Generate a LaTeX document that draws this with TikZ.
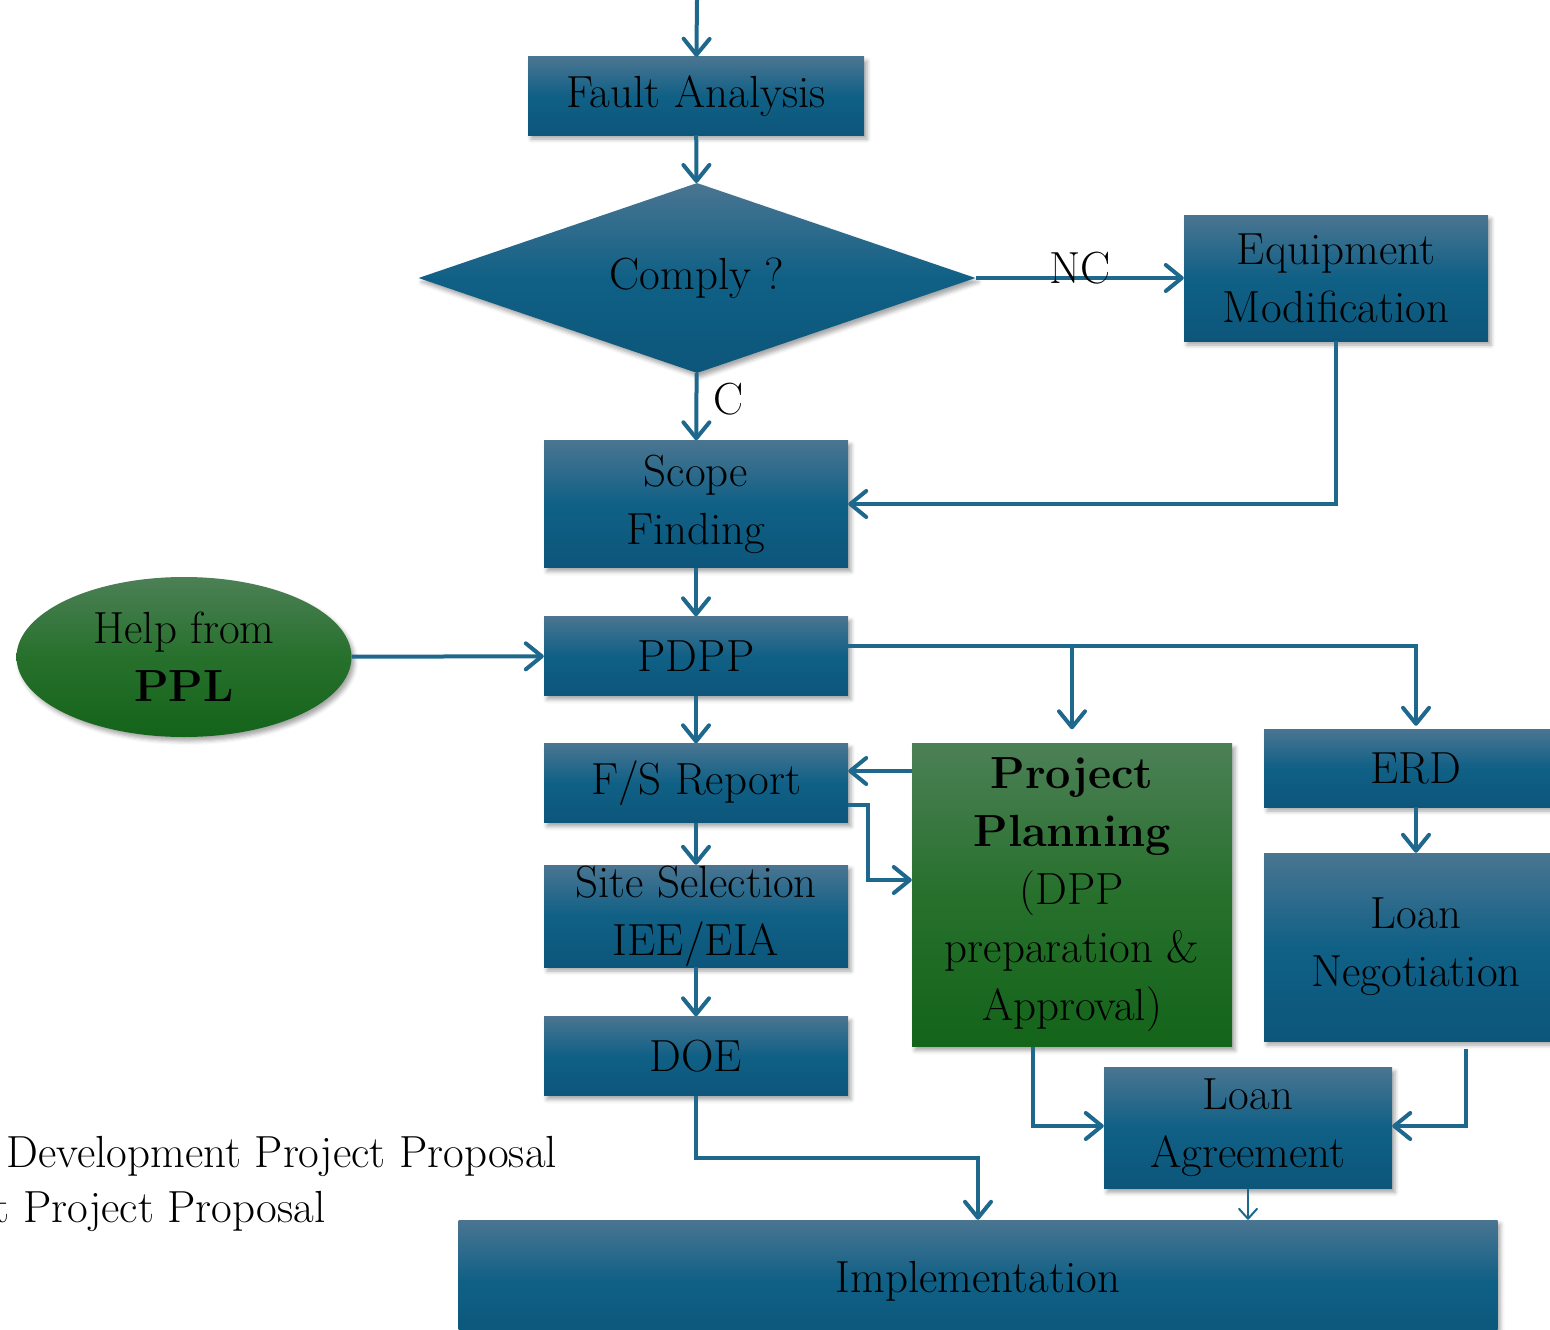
\documentclass[tikz,border=0pt]{standalone}
\usepackage{fontspec}
\usetikzlibrary{arrows.meta,shapes.geometric,shadows.blur}
\definecolor{niceblue}{RGB}{12, 86, 122}
\definecolor{niceblueM}{RGB}{16, 96, 134}
\definecolor{niceblueL}{RGB}{74, 117, 145}
\definecolor{nicegreen}{RGB}{20, 100, 26}
\definecolor{nicegreenL}{RGB}{76, 128, 86}
\definecolor{linkblue}{RGB}{30, 104, 142}

\tikzset{
	box/.style = {rectangle, inner sep = 0pt, align = center, top color = niceblueL, bottom color = niceblue, middle color = niceblueM,
		blur shadow = {shadow xshift = 3pt, shadow yshift = -4pt, shadow blur radius = 4pt, shadow opacity = 35}},
	gbox/.style = {box, top color = nicegreenL, bottom color = nicegreen, middle color = nicegreen!92!white},
	arr/.style = {draw = linkblue, line width = 4pt, -{Straight Barb[round, length = 16pt, width = 26pt]}},
	tarr/.style = {draw = linkblue, line width = 2pt, -{Straight Barb[round, length = 10pt, width = 18pt]}}
}

\begin{document}
\begin{tikzpicture}[x = 1pt, y = -1pt, every node/.style = {font = \fontsize{45}{58}\selectfont}]
			\useasboundingbox (0,0) rectangle (1550,1330);
			\clip (0,0) rectangle (1550,1330);
			\coordinate (start) at (697,0);
			\node (fault) at (696,96) [box, minimum width = 336pt, minimum height = 78pt] {Fault Analysis};
			\node (comply) at (697,278) [box, diamond, aspect = 2.9, minimum width = 557pt, minimum height = 190pt] {Comply ?};
			\node (equip) at (1336,278) [box, minimum width = 304pt, minimum height = 126pt] {Equipment\\ Modification};
			\node (scope) at (696,504) [box, minimum width = 304pt, minimum height = 127pt] {Scope\\ Finding};
			\node (ppl) at (184,657) [gbox, ellipse, minimum width = 335pt, minimum height = 160pt] {Help from\\ \textbf{PPL}};
			\node (pdpp) at (696,656) [box, minimum width = 304pt, minimum height = 79pt] {PDPP};
			\node (fsr) at (696,783) [box, minimum width = 304pt, minimum height = 79pt] {F/S Report};
			\node (site) at (696,916) [box, minimum width = 304pt, minimum height = 102pt] {Site Selection\\ IEE/EIA};
			\node (doe) at (696,1056) [box, minimum width = 304pt, minimum height = 79pt] {DOE};
			\node (plan) at (1072,895) [gbox, minimum width = 320pt, minimum height = 303pt] {\textbf{Project}\\ \textbf{Planning}\\ (DPP\\ preparation \&\\ Approval)};
			\node (erd) at (1416,768) [box, minimum width = 304pt, minimum height = 78pt] {ERD};
			\node (loanneg) at (1416,947) [box, minimum width = 304pt, minimum height = 188pt] {Loan\\ Negotiation};
			\node (loanagr) at (1248,1128) [box, minimum width = 288pt, minimum height = 121pt] {Loan\\ Agreement};
			\node (impl) at (978,1281) [box, minimum width = 1039pt, minimum height = 122pt] {Implementation};
			\node (note1) at (3,1167) [anchor = base west] {Development Project Proposal};
			\node (note2) at (329,1222) [anchor = base east] {Development Project Proposal};
			\draw[arr] (start) -- (fault);
			\draw[arr] (fault) -- (comply);
			\draw[arr] (comply) -- node[midway, yshift = 10pt] {NC} (equip);
			\draw[arr] (comply) -- node[midway, right, xshift = 12pt, yshift = 8pt] {C} (scope);
			\draw[arr] (equip.south) |- (scope.east);
			\draw[arr] (scope) -- (pdpp);
			\draw[arr] (ppl) -- (pdpp);
			\draw[arr] ([yshift = 10pt]pdpp.east) -| ([yshift = 14pt]plan.north);
			\draw[arr] ([yshift = 10pt]pdpp.east) -| ([yshift = 3pt]erd.north);
			\draw[arr] (pdpp) -- (fsr);
			\draw[arr] ([yshift = 12pt]fsr.east -| plan.west) -- ([yshift = 12pt]fsr.east);
			\draw[arr] ([yshift = -22pt]fsr.east) -- ++(20,0) |- ([yshift = 15pt]plan.west);
			\draw[arr] (fsr) -- (site);
			\draw[arr] (site) -- (doe);
			\draw[arr] (doe.south) -- ++(0,62) -| (impl.north);
			\draw[arr] (erd) -- (loanneg);
			\draw[arr] ([xshift = 50pt, yshift = -8pt]loanneg.south) |- ([yshift = 2pt]loanagr.east);
			\draw[arr] ([xshift = -39pt]plan.south) |- ([yshift = 2pt]loanagr.west);
			\draw[tarr] (loanagr.south) -- (loanagr.south |- impl.north);
			\end{tikzpicture}
\end{document}
